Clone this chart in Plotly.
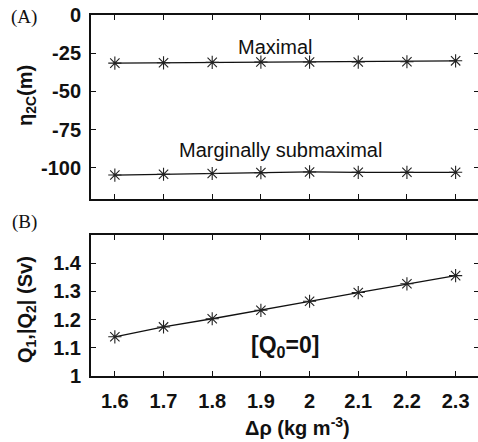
import plotly.graph_objects as go

drho = [1.6, 1.7, 1.8, 1.9, 2.0, 2.1, 2.2, 2.3]
eta_maximal = [-31.5, -31.3, -31.0, -30.8, -30.8, -30.8, -30.6, -30.0]
eta_marginal = [-104.8, -104.3, -103.8, -103.2, -102.8, -103.0, -103.0, -103.0]
q_flow = [1.139, 1.174, 1.203, 1.233, 1.265, 1.296, 1.327, 1.356]

xticks = [1.6, 1.7, 1.8, 1.9, 2.0, 2.1, 2.2, 2.3]
xticklabels = ["1.6", "1.7", "1.8", "1.9", "2", "2.1", "2.2", "2.3"]
yticks_a = [0, -25, -50, -75, -100]
yticklabels_a = ["0", "-25", "-50", "-75", "-100"]
yticks_b = [1.0, 1.1, 1.2, 1.3, 1.4]
yticklabels_b = ["1", "1.1", "1.2", "1.3", "1.4"]

W, H = 478, 442
FONT = "Liberation Sans, Arial, sans-serif"
BLACK = "#111111"

def px(x):
    return x / W

def py(y):
    return (H - y) / H

def bold(labels):
    return ["<b>%s</b>" % s for s in labels]

fig = go.Figure()

line_style = dict(color=BLACK, width=1.3)
marker_style = dict(symbol="asterisk-open", size=11, line=dict(color="#222222", width=1.1), color="#222222")

fig.add_trace(go.Scatter(x=drho, y=eta_maximal, mode="lines+markers", line=line_style,
                         marker=marker_style, xaxis="x", yaxis="y", showlegend=False))
fig.add_trace(go.Scatter(x=drho, y=eta_marginal, mode="lines+markers", line=line_style,
                         marker=marker_style, xaxis="x", yaxis="y", showlegend=False))
fig.add_trace(go.Scatter(x=drho, y=q_flow, mode="lines+markers", line=line_style,
                         marker=marker_style, xaxis="x2", yaxis="y2", showlegend=False))
fig.add_trace(go.Scatter(x=[None], y=[None], xaxis="x3", yaxis="y3", showlegend=False, hoverinfo="skip"))
fig.add_trace(go.Scatter(x=[None], y=[None], xaxis="x4", yaxis="y4", showlegend=False, hoverinfo="skip"))

xdom = [px(91), 1.0]
xrange = [1.551, 2.346]
tickfont = dict(family=FONT, size=20, color=BLACK, weight="bold")

common_x = dict(range=xrange, domain=xdom, tickvals=xticks, ticks="inside", ticklen=5,
                tickwidth=1, tickcolor=BLACK, showline=True, linewidth=2, linecolor=BLACK,
                mirror=False, showgrid=False, zeroline=False, automargin=False)
common_y = dict(ticks="inside", ticklen=5, tickwidth=1, tickcolor=BLACK,
                showline=True, linewidth=2, linecolor=BLACK, showgrid=False, zeroline=False,
                tickfont=tickfont, automargin=False, ticklabelstandoff=4)
right_y = dict(ticks="inside", ticklen=4, tickwidth=1, tickcolor=BLACK, side="right",
               showline=False, showgrid=False, zeroline=False, showticklabels=False,
               automargin=False)

fig.update_layout(
    template="none",
    width=W, height=H,
    margin=dict(l=0, r=0, t=0, b=0, autoexpand=False),
    paper_bgcolor="white", plot_bgcolor="white",
    xaxis=dict(**common_x, anchor="y", showticklabels=False),
    xaxis3=dict(**common_x, anchor="y", side="top", overlaying="x", showticklabels=False),
    xaxis2=dict(**common_x, anchor="y2", showticklabels=True, ticktext=bold(xticklabels),
                tickfont=tickfont, ticklabelstandoff=6),
    xaxis4=dict(**common_x, anchor="y2", side="top", overlaying="x2", showticklabels=False),
    yaxis=dict(**common_y, domain=[py(199), py(15)], range=[-120.5, 0], tickvals=yticks_a,
               ticktext=bold(yticklabels_a), anchor="x"),
    yaxis3=dict(**right_y, domain=[py(199), py(15)], range=[-120.5, 0], tickvals=yticks_a,
                overlaying="y", anchor="x"),
    yaxis2=dict(**common_y, domain=[py(376), py(235)], range=[1.0, 1.5], tickvals=yticks_b,
                ticktext=bold(yticklabels_b), anchor="x2"),
    yaxis4=dict(**right_y, domain=[py(376), py(235)], range=[1.0, 1.5], tickvals=yticks_b,
                overlaying="y2", anchor="x2"),
)

serif = dict(family="Liberation Serif, Times New Roman, serif", size=19, color=BLACK)
sans = dict(family=FONT, size=20, color=BLACK)
C = dict(xanchor="center", yanchor="middle", showarrow=False)
ann = []
ann.append(dict(text="(A)", x=px(24), y=py(17), xref="paper", yref="paper", font=serif, **C))
ann.append(dict(text="(B)", x=px(24), y=py(222), xref="paper", yref="paper", font=serif, **C))
ann.append(dict(text="<b>η<sub>2C</sub>(m)</b>", x=px(26), y=py(96), xref="paper", yref="paper",
                textangle=-90, font=sans, **C))
ann.append(dict(text="<b>Q<sub>1</sub>,|Q<sub>2</sub>| (Sv)</b>", x=px(26), y=py(310), xref="paper",
                yref="paper", textangle=-90, font=sans, **C))
ann.append(dict(text="<b>Δρ (kg m<sup>-3</sup>)</b>", x=px(297), y=py(426), xref="paper", yref="paper",
                font=sans, **C))
ann.append(dict(text="Maximal", x=1.93, y=-21, xref="x", yref="y", font=sans, **C))
ann.append(dict(text="Marginally submaximal", x=1.94, y=-88.5, xref="x", yref="y", font=sans, **C))
ann.append(dict(text="<b>[Q<sub>0</sub>=0]</b>", x=1.95, y=1.105, xref="x2", yref="y2",
                font=dict(family=FONT, size=23, color=BLACK), **C))
fig.update_layout(annotations=ann)

fig.write_html("out.html")
